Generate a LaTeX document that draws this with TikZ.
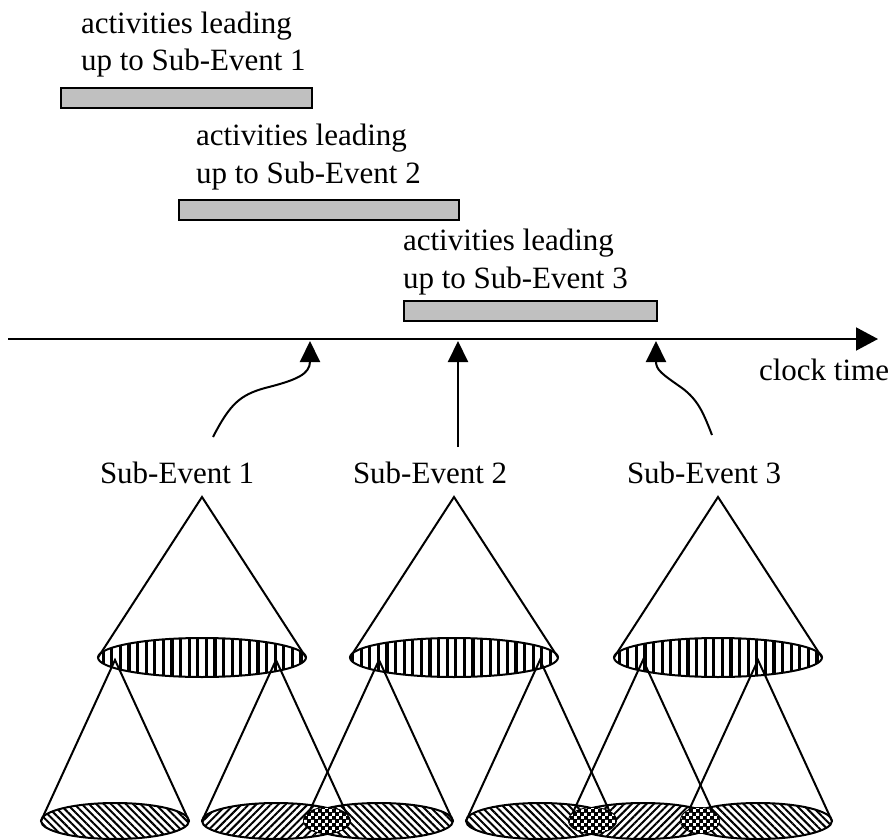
\documentclass[tikz,border=0pt]{standalone}
\usepackage{fontspec}
\setmainfont{Liberation Serif}
\usetikzlibrary{arrows.meta,patterns,patterns.meta}

\definecolor{barfill}{HTML}{C0C0C0}

% small checkerboard cells used for the overlap spots
\pgfdeclarepatternformonly{checkercells}{\pgfpointorigin}{\pgfqpoint{7pt}{7pt}}{\pgfqpoint{7pt}{7pt}}{%
  \pgfpathrectangle{\pgfpointorigin}{\pgfqpoint{3.2pt}{3.2pt}}%
  \pgfpathrectangle{\pgfqpoint{3.5pt}{3.5pt}}{\pgfqpoint{3.2pt}{3.2pt}}%
  \pgfusepath{fill}}

\begin{document}
\begin{tikzpicture}[x=1pt,y=-1pt,
  line width=2pt,
  lbl/.style={font=\fontsize{31}{37.5}\selectfont, inner sep=0pt, align=left, anchor=base west},
  actbar/.style={draw, line width=2pt, fill=barfill, inner sep=0pt, anchor=north west, minimum height=20pt},
  evarrow/.style={-{Triangle[length=21pt,width=20pt]}, line width=2pt},
  bigbase/.style={pattern={Lines[angle=90,distance=8.6pt,line width=3.2pt]}},
  baseA/.style={pattern={Lines[angle=-45,distance=5.2pt,line width=2pt]}},
  baseB/.style={pattern={Lines[angle=45,distance=5.2pt,line width=2pt]}},
  overlapspot/.style={fill=black, postaction={pattern=checkercells, pattern color=white}},
]
\useasboundingbox (0,0) rectangle (892,840);

% activity labels (anchored on the baseline of their last line) and bars
\node[lbl] (a1) at (80,71) {activities leading\\up to Sub-Event 1};
\node[actbar, minimum width=251pt] (bar1) at (60,87) {};
\node[lbl] (a2) at (195,183) {activities leading\\up to Sub-Event 2};
\node[actbar, minimum width=280pt] (bar2) at (178,199) {};
\node[lbl] (a3) at (402,288) {activities leading\\up to Sub-Event 3};
\node[actbar, minimum width=253pt] (bar3) at (403,300) {};

% time axis
\coordinate (tstart) at (8,339);
\coordinate (tend) at (878,339);
\draw[-{Triangle[length=22pt,width=23pt]}] (tstart) -- (tend);
\node[lbl] (clock) at (758,380) {clock time};

% event labels
\node[lbl] (e1) at (99,483) {Sub-Event 1};
\node[lbl] (e2) at (352,483) {Sub-Event 2};
\node[lbl] (e3) at (626,483) {Sub-Event 3};

% arrows from the events to the axis
\coordinate (s1) at (213,437);
\coordinate (t1) at (310,341);
\coordinate (s2) at (458,447);
\coordinate (t2) at (458,341);
\coordinate (s3) at (712,435);
\coordinate (t3) at (656,341);
\draw[evarrow] (s1) .. controls (230,404) and (240,395) .. (265,388)
                    .. controls (297,380) and (310,374) .. (t1);
\draw[evarrow] (s2) -- (t2);
\draw[evarrow] (s3) .. controls (703,412) and (698,400) .. (682,388)
                    .. controls (662,374) and (656,370) .. (t3);

% large cones
\foreach \cx/\nm in {202/c1, 454/c2, 718/c3} {
  \coordinate (\nm top) at (\cx,497);
  \coordinate (\nm mid) at (\cx,657.5);
  \draw (\cx-104,657.5) -- (\nm top) -- (\cx+104,657.5);
  \path[bigbase] (\nm mid) ellipse [x radius=104, y radius=19.5];
  \draw (\nm mid) ellipse [x radius=104, y radius=19.5];
}

% smaller cones hanging from the large bases
\foreach \cx/\sty in {115/baseA, 276/baseB, 379/baseA, 540/baseA, 643/baseB, 758/baseA} {
  \draw (\cx-74,821) -- (\cx,660) -- (\cx+74,821);
  \path[\sty] (\cx,821) ellipse [x radius=74, y radius=18];
  \draw (\cx,821) ellipse [x radius=74, y radius=18];
}

% overlap spots
\draw[overlapspot] (326.5,820.5) ellipse [x radius=22.5, y radius=12.5];
\draw[overlapspot] (592.5,820.5) ellipse [x radius=23.5, y radius=12.5];
\draw[overlapspot] (700,820.5) ellipse [x radius=19, y radius=12.5];
\end{tikzpicture}
\end{document}
